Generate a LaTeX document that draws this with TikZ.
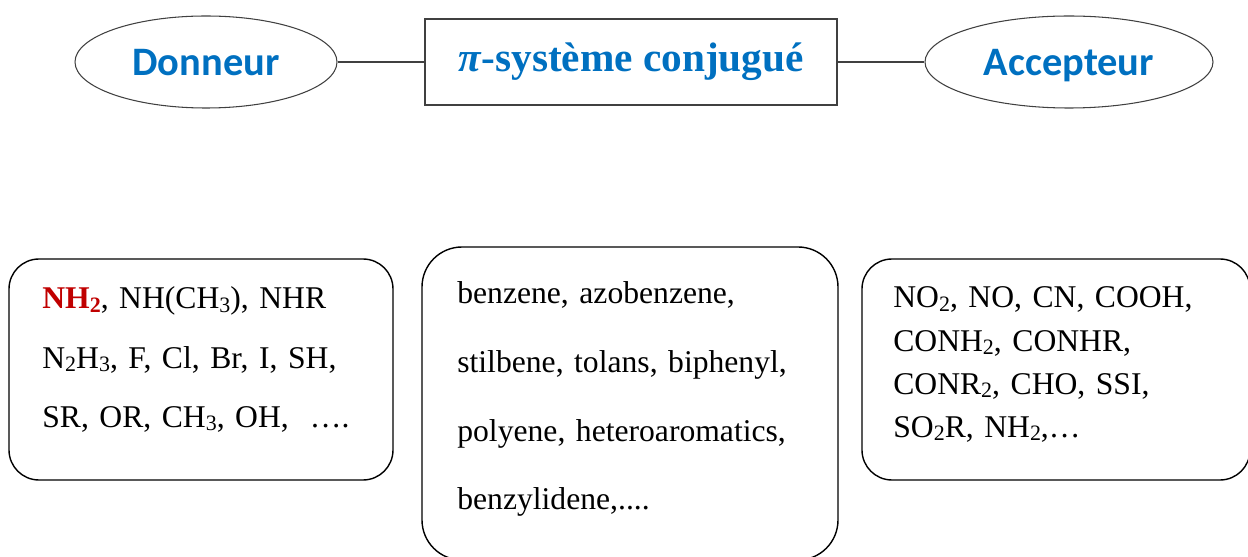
\documentclass[tikz,border=0pt]{standalone}
\usepackage{fontspec}
\setmainfont{Liberation Serif}
\newfontfamily\labelfont{Carlito}
\usepackage{tikz}
\usetikzlibrary{shapes.geometric}
\definecolor{titleblue}{HTML}{0070C0}
\definecolor{nhred}{HTML}{C00000}
\definecolor{edgegray}{HTML}{404040}
\newcommand{\chem}[1]{\raisebox{-0.12em}{\fontsize{12.5}{12.5}\selectfont #1}}

\begin{document}
\begin{tikzpicture}[
  part/.style={ellipse,draw=edgegray,line width=0.6pt,minimum height=1.84cm,
    text depth=0pt,text=titleblue,font=\labelfont\bfseries\fontsize{23}{26}\selectfont},
  listbox/.style={draw,line width=0.8pt,rounded corners=0.6cm},
  listtext/.style={anchor=base west,inner sep=0pt,align=left,text width=7.2cm,
    font=\fontsize{18}{#1}\selectfont},
  ]
  \useasboundingbox (0,0) rectangle (24.96,11.14);
  \node[part,minimum width=5.24cm] (donneur) at (4.12,9.9) {Donneur};
  \node[draw=edgegray,line width=0.8pt,minimum width=8.24cm,minimum height=1.72cm,
    text=titleblue,font=\bfseries\fontsize{23.5}{27}\selectfont] (pisys) at (12.62,9.9)
    {\raisebox{0.2cm}{\textit{π}-système conjugué}};
  \node[part,minimum width=5.76cm] (accepteur) at (21.38,9.9) {Accepteur};
  \draw[edgegray,line width=0.6pt] (donneur) -- (pisys);
  \draw[edgegray,line width=0.6pt] (pisys) -- (accepteur);

  \node[listbox,minimum width=7.68cm,minimum height=4.42cm] (donbox) at (4.02,3.75) {};
  \node[listbox,rounded corners=0.8cm,minimum width=8.32cm,minimum height=6.26cm] (pibox) at (12.6,3.07) {};
  \node[listbox,minimum width=7.76cm,minimum height=4.42cm] (accbox) at (21.12,3.75) {};

  \node[listtext=33.6pt] (dontext) at (0.84,4.96)
    {\textbf{\color{nhred}NH\chem{2}}, NH(CH\chem{3}), NHR\\
     N\chem{2}H\chem{3}, F, Cl, Br, I, SH,\\
     SR, OR, CH\chem{3}, OH,\ \ ….};
  \node[listtext=39pt] (pitext) at (9.14,5.06)
    {benzene, azobenzene,\\
     stilbene, tolans, biphenyl,\\
     polyene, heteroaromatics,\\
     benzylidene,....};
  \node[listtext=24.5pt] (acctext) at (17.86,4.98)
    {NO\chem{2}, NO, CN, COOH,\\
     CONH\chem{2}, CONHR,\\
     CONR\chem{2}, CHO, SSI,\\
     SO\chem{2}R, NH\chem{2},…};
\end{tikzpicture}
\end{document}
